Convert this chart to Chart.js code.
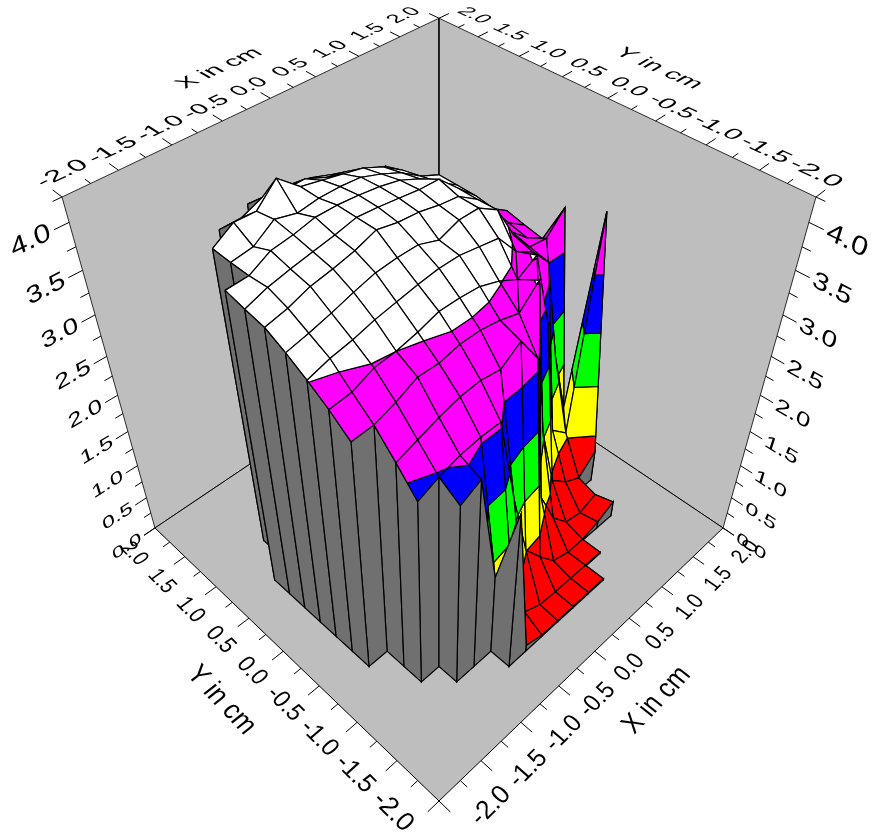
<!DOCTYPE html>
<html>
<head>
<meta charset="utf-8">
<title>Surface plot</title>
<script src="https://cdn.jsdelivr.net/npm/chart.js@4"></script>
<style>
  html, body { margin: 0; padding: 0; background: #fff; }
  #wrap { width: 874px; height: 836px; }
</style>
</head>
<body>
<div id="wrap"><canvas id="surface" width="874" height="836"></canvas></div>
<script>
// --- Data ---
const xGrid = [-1.556, -1.333, -1.111, -0.889, -0.667, -0.444, -0.222, 0, 0.222, 0.444, 0.667, 0.889, 1.111, 1.333, 1.556];
const yGrid = [1.556, 1.333, 1.111, 0.889, 0.667, 0.444, 0.222, 0, -0.222, -0.444, -0.667, -0.889, -1.111, -1.333, -1.556];
const _ = null;
// one row per yGrid value, one column per xGrid value (height)
const zRows = [
  [_, _, _, _, 3.70, 3.68, 3.67, 3.63, 3.55, 3.10, 3.10, _, _, _, _],
  [_, _, 3.80, 3.80, 3.89, 3.85, 3.85, 3.75, 3.70, 3.61, 3.53, 3.00, 2.90, _, _],
  [_, 3.86, 4.00, 3.99, 4.20, 4.00, 3.95, 3.90, 3.85, 3.75, 3.60, 3.20, 2.95, 2.90, _],
  [_, 3.85, 3.88, 4.03, 3.97, 4.00, 4.00, 3.98, 3.90, 3.80, 3.65, 3.55, 3.00, 2.90, _],
  [3.84, 3.85, 3.97, 4.00, 4.05, 4.05, 4.03, 4.00, 3.95, 3.85, 3.70, 3.55, 3.00, 3.05, 2.90],
  [3.79, 3.87, 3.92, 3.96, 4.00, 4.05, 4.03, 4.00, 3.97, 3.96, 3.75, 3.55, 3.00, 3.00, 2.85],
  [3.75, 3.80, 3.88, 3.92, 3.97, 4.05, 4.00, 3.98, 3.93, 3.90, 3.75, 3.52, 3.15, 2.95, 2.81],
  [3.64, 3.69, 3.75, 3.82, 3.88, 3.90, 3.90, 3.82, 3.90, 3.90, 3.76, 3.36, 3.10, 3.07, 3.30],
  [3.51, 3.58, 3.62, 3.68, 3.72, 3.76, 3.79, 3.79, 3.75, 3.71, 3.44, 3.30, 3.05, 1.72, 0.80],
  [3.36, 3.38, 3.48, 3.50, 3.55, 3.62, 3.62, 3.60, 3.52, 3.40, 3.53, 2.60, 0.98, 0.76, 3.50],
  [3.18, 3.19, 3.27, 3.38, 3.37, 3.42, 3.42, 3.38, 3.31, 3.53, 1.50, 0.58, 0.36, 0.23, 0.46],
  [_, 2.94, 3.02, 3.10, 3.16, 3.18, 3.14, 3.30, 2.95, 0.91, 0.38, 0.10, 0.05, 0.15, _],
  [_, 2.67, 2.77, 2.84, 2.87, 2.87, 1.70, 0.72, 0.39, 0.10, 0.02, 0.02, 0.10, 0.23, _],
  [_, _, 2.62, 2.74, 1.20, 0.90, 0.17, 0.05, 0.03, 0.03, 0.02, 0.02, _, _, _],
  [_, _, _, _, 2.32, 0.10, 0.02, 0.02, 0.02, 0.02, 0.02, _, _, _, _]
];
const zLevels = [0, 0.7, 1.4, 2.1, 2.8, 3.5, 99];
const bandColors = ['#ff0000', '#ffff00', '#00ff00', '#0000ff', '#ff00ff', '#ffffff'];
const xyTickLabels = ['-2.0', '-1.5', '-1.0', '-0.5', '0.0', '0.5', '1.0', '1.5', '2.0'];
const zTickLabels = ['0.0', '0.5', '1.0', '1.5', '2.0', '2.5', '3.0', '3.5', '4.0'];

const zTop = 4.25;

// perspective of the box, fitted to its corners
function project(X, Y, Z) {
    const u = (X + 2) / 4, v = (Y + 2) / 4, w = Z / zTop;
    const den = 1 + 0.2147 * (u + v) - 0.2996 * w;
    return {
        x: 439 + 345 * (u - v) / den,
        y: (801 - 159.7 * (u + v) - 461 * w) / den
    };
}

const LINE = '#000000';
const datasets = [];

function addPoly(corners, fillColor, width) {
    const pts = corners.map(c => project(c[0], c[1], c[2]));
    pts.push(pts[0]);
    datasets.push({
        data: pts, showLine: true, fill: 'shape', backgroundColor: fillColor,
        borderColor: LINE, borderWidth: width || 1.2, pointRadius: 0, tension: 0
    });
}

function addLine(a, b) {
    datasets.push({
        data: [project(a[0], a[1], a[2]), project(b[0], b[1], b[2])],
        showLine: true, fill: false, borderColor: LINE, borderWidth: 1,
        pointRadius: 0, tension: 0
    });
}

// --- Box ---
addPoly([[-2, 2, 0], [2, 2, 0], [2, 2, zTop], [-2, 2, zTop]], '#bebebe', 0.8);
addPoly([[2, 2, 0], [2, -2, 0], [2, -2, zTop], [2, 2, zTop]], '#bebebe', 0.8);
addPoly([[-2, -2, 0], [2, -2, 0], [2, 2, 0], [-2, 2, 0]], '#bebebe', 1);

for (let t = -2; t <= 2; t += 0.25) {
    const len = (t * 2) % 1 === 0 ? 0.13 : 0.08;
    addLine([t, -2, 0], [t, -2 - len, 0]);
    addLine([-2, t, 0], [-2 - len, t, 0]);
    addLine([t, 2, zTop], [t, 2 + len, zTop]);
    addLine([2, t, zTop], [2 + len, t, zTop]);
}
for (let z = 0; z <= zTop; z += 0.25) {
    const len = (z * 2) % 1 === 0 ? 0.13 : 0.08;
    addLine([-2, 2, z], [-2 - len, 2, z]);
    addLine([2, -2, z], [2, -2 - len, z]);
}

// --- Surface ---
// keep the part of a polygon between two heights
function clipZ(poly, limit, keepAbove) {
    const out = [];
    for (let k = 0; k < poly.length; k++) {
        const a = poly[k], b = poly[(k + 1) % poly.length];
        const inA = keepAbove ? a[2] >= limit : a[2] <= limit;
        const inB = keepAbove ? b[2] >= limit : b[2] <= limit;
        if (inA) out.push(a);
        if (inA !== inB) {
            const t = (limit - a[2]) / (b[2] - a[2]);
            out.push([a[0] + t * (b[0] - a[0]), a[1] + t * (b[1] - a[1]), limit]);
        }
    }
    return out;
}

// a cell whose opposite corners sit on either side of a level gets cut in two,
// so the high corners stay separate tips instead of a strip across the cell
function splitSaddle(quad) {
    const [a, b, c, d] = quad;
    for (const level of zLevels.slice(1, -1)) {
        const acUp = a[2] >= level && c[2] >= level && b[2] < level && d[2] < level;
        const bdUp = b[2] >= level && d[2] >= level && a[2] < level && c[2] < level;
        if (acUp) return [[a, b, d], [c, d, b]];
        if (bdUp) return [[a, b, c], [a, c, d]];
    }
    return [quad];
}

const pieces = [];
const has = (r, c) => zRows[r] !== undefined && zRows[r][c] !== undefined && zRows[r][c] !== null;
const corner = (r, c) => [xGrid[c], yGrid[r], zRows[r][c]];
const cellOn = (r, c) => has(r, c) && has(r, c + 1) && has(r + 1, c) && has(r + 1, c + 1);

for (let r = 0; r < yGrid.length - 1; r++) {
    for (let c = 0; c < xGrid.length - 1; c++) {
        if (!cellOn(r, c)) continue;
        const quad = [corner(r, c), corner(r, c + 1), corner(r + 1, c + 1), corner(r + 1, c)];
        const depth = quad.reduce((s, p) => s + p[0] + p[1], 0) / 4;
        pieces.push({ depth, draw: () => {
            splitSaddle(quad).forEach(shape => {
                bandColors.forEach((color, b) => {
                    let part = clipZ(shape, zLevels[b], true);
                    if (part.length) part = clipZ(part, zLevels[b + 1], false);
                    if (part.length > 2) addPoly(part, color);
                });
            });
        } });
    }
}

// grey skirt under every outer edge of the mesh
function addWall(r1, c1, r2, c2) {
    const a = corner(r1, c1), b = corner(r2, c2);
    const depth = (a[0] + a[1] + b[0] + b[1]) / 2;
    pieces.push({ depth, draw: () => addPoly([a, b, [b[0], b[1], 0], [a[0], a[1], 0]], '#707070') });
}
for (let r = 0; r < yGrid.length - 1; r++) {
    for (let c = 0; c < xGrid.length - 1; c++) {
        if (!cellOn(r, c)) continue;
        if (!cellOn(r - 1, c)) addWall(r, c, r, c + 1);
        if (!cellOn(r + 1, c)) addWall(r + 1, c, r + 1, c + 1);
        if (!cellOn(r, c - 1)) addWall(r, c, r + 1, c);
        if (!cellOn(r, c + 1)) addWall(r, c + 1, r + 1, c + 1);
    }
}
pieces.sort((p, q) => q.depth - p.depth).forEach(p => p.draw());

// --- Axis text, laid flat on the box planes ---
const texts = [];
function addText(str, at, along, up, em) {
    texts.push({ str, at, along, up, em });
}
xyTickLabels.forEach((label, k) => {
    const t = -2 + k * 0.5;
    addText(label, [0.91 * t + 0.09, -2.33, 0], [1, 0, 0], [0, 1, 0], 0.22);
    addText(label, [-2.33, 0.92 * t + 0.04, 0], [0, -1, 0], [1, 0, 0], 0.22);
    addText(label, [0.91 * t - 0.01, 2.27, zTop], [1, 0, 0], [0, 1, 0], 0.24);
    addText(label, [2.27, 0.91 * t - 0.01, zTop], [0, -1, 0], [1, 0, 0], 0.24);
});
zTickLabels.forEach((label, k) => {
    const z = k * 0.5;
    addText(label, [-2.33, 2, z], [1, 0, 0], [0, 0, 1], 0.24);
    addText(label, [2, -2.33, z], [0, -1, 0], [0, 0, 1], 0.24);
});
addText('X in cm', [0, -2.7, 0], [1, 0, 0], [0, 1, 0], 0.25);
addText('Y in cm', [-2.7, 0, 0], [0, -1, 0], [1, 0, 0], 0.25);
addText('X in cm', [0, 2.7, zTop], [1, 0, 0], [0, 1, 0], 0.26);
addText('Y in cm', [2.7, 0, zTop], [0, -1, 0], [1, 0, 0], 0.26);

const axisText = {
    id: 'axisText',
    afterDraw(chart) {
        const ctx = chart.ctx, sx = chart.scales.x, sy = chart.scales.y;
        const px = (p) => ({ x: sx.getPixelForValue(p.x), y: sy.getPixelForValue(p.y) });
        const BASE = 20;
        texts.forEach(t => {
            const [X, Y, Z] = t.at;
            const o = px(project(X, Y, Z));
            const a = px(project(X + t.along[0] * t.em, Y + t.along[1] * t.em, Z + t.along[2] * t.em));
            const b = px(project(X + t.up[0] * t.em, Y + t.up[1] * t.em, Z + t.up[2] * t.em));
            ctx.save();
            ctx.transform((a.x - o.x) / BASE, (a.y - o.y) / BASE, -(b.x - o.x) / BASE, -(b.y - o.y) / BASE, o.x, o.y);
            ctx.font = BASE + 'px "Liberation Sans", Arial, sans-serif';
            ctx.fillStyle = '#000';
            ctx.textAlign = 'center';
            ctx.textBaseline = 'middle';
            ctx.fillText(t.str, 0, 0);
            ctx.restore();
        });
    }
};

new Chart(document.getElementById('surface').getContext('2d'), {
    type: 'scatter',
    data: { datasets: datasets.reverse() }, // chart.js paints the last dataset first
    options: {
        responsive: false,
        animation: false,
        devicePixelRatio: 1,
        layout: { padding: 0 },
        scales: {
            x: { type: 'linear', min: 0, max: 874, display: false },
            y: { type: 'linear', min: 0, max: 836, reverse: true, display: false }
        },
        plugins: {
            legend: { display: false },
            tooltip: { enabled: false },
            filler: { drawTime: 'beforeDatasetDraw' }
        }
    },
    plugins: [axisText]
});
</script>
</body>
</html>
